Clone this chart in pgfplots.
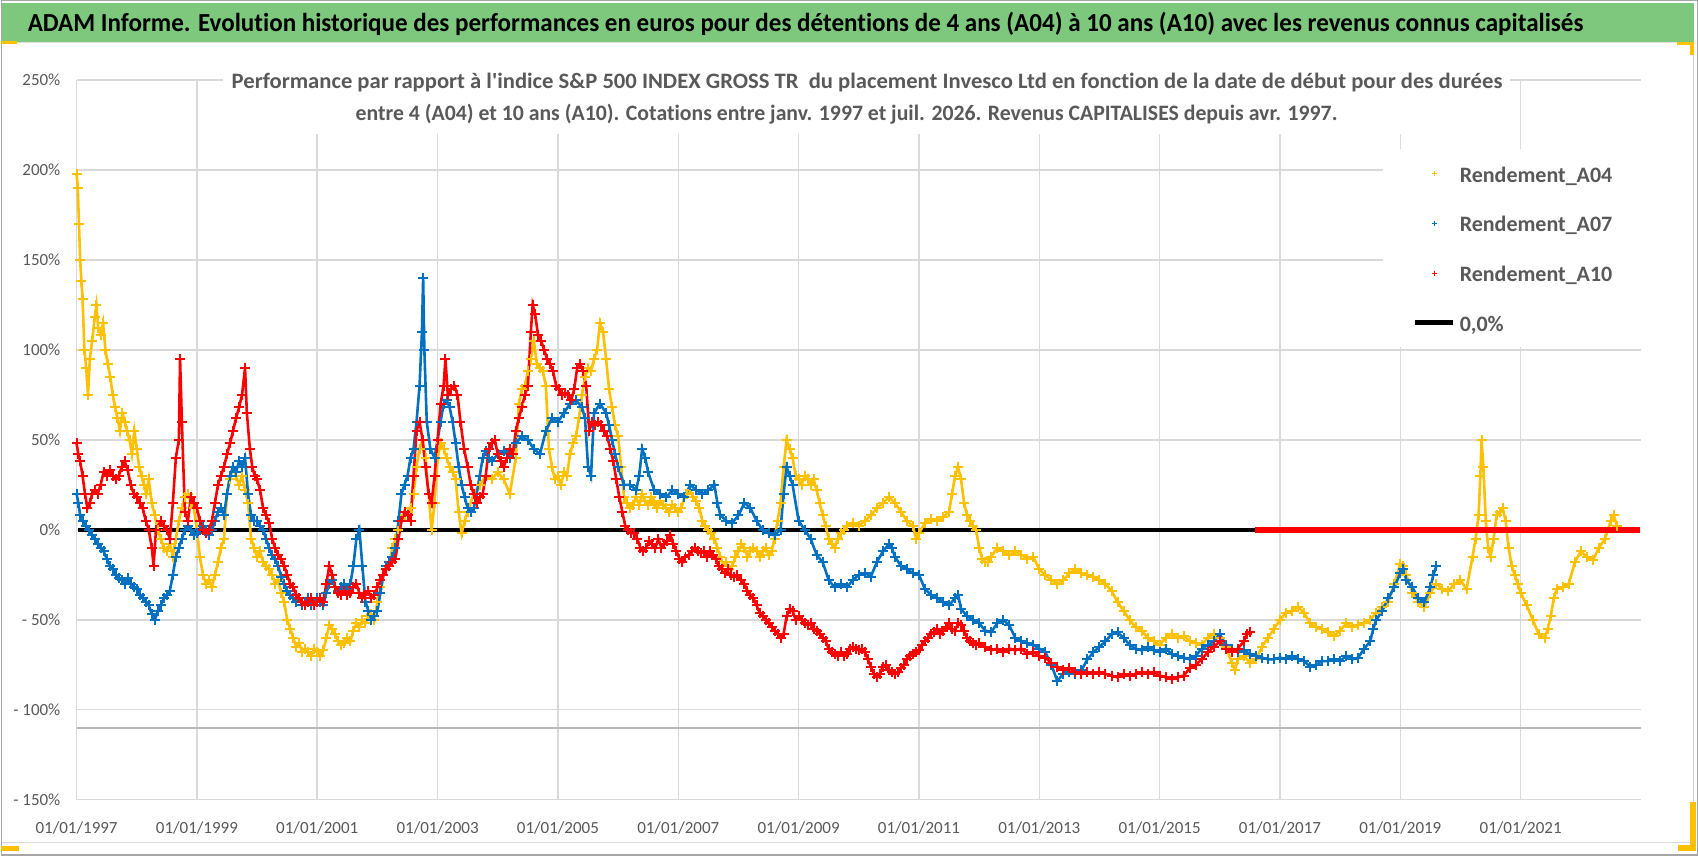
\documentclass[border=0pt]{standalone}
\usepackage{pgfplots}
\pgfplotsset{compat=1.18}
\usepackage{fontspec}
\setmainfont{Carlito}[Ligatures={TeXOff,CommonOff}]
\usepackage{graphicx}
\definecolor{cA04}{HTML}{FFC000}
\definecolor{cA07}{HTML}{0070C0}
\definecolor{cA10}{HTML}{FF0000}
\definecolor{txtgray}{HTML}{595959}
\definecolor{gridgray}{HTML}{D9D9D9}
\definecolor{titlegreen}{HTML}{7EC87E}
\pgfplotsset{serie/.style={line width=2.6pt, mark=+, mark size=5pt, mark options={line width=2pt}}}
\begin{document}
\begin{tikzpicture}[x=1pt,y=1pt]
\fill[white] (0,0) rectangle (1698,856);
\fill[titlegreen] (0,814) rectangle (1694,853);
\draw[gray!25, line width=1pt] (0,813) -- (1694,813);
\draw[gray!30, line width=1.2pt] (0,13) -- (1690,13);
\draw[gray!35, line width=1pt] (1693,13) -- (1693,813);
\draw[gray!70, line width=1.2pt] (0.6,0.6) rectangle (1697.4,855.4);
\fill[cA04] (0,812) rectangle (16,815);
\fill[cA04] (0,5) rectangle (18,10);
\fill[cA04] (1690,5) rectangle (1696,54);
\fill[cA04] (1678,5) rectangle (1696,11);
\fill[cA04] (1677,811) rectangle (1694,814);
\fill[cA04] (1690,801) rectangle (1694,814);
\begin{axis}[
  at={(76pt,56pt)}, anchor=south west,
  width=1565pt, height=720pt, scale only axis,
  xmin=1997, xmax=2023, ymin=-150, ymax=250,
  axis line style={draw=none}, tick style={draw=none},
  xtick={1997,1999,...,2021},
  xticklabels={01/01/1997,01/01/1999,01/01/2001,01/01/2003,01/01/2005,01/01/2007,01/01/2009,01/01/2011,01/01/2013,01/01/2015,01/01/2017,01/01/2019,01/01/2021},
  ytick={-150,-100,...,250},
  yticklabels={- 150\%,- 100\%,- 50\%,0\%,50\%,100\%,150\%,200\%,250\%},
  grid=major, major grid style={gridgray, line width=1.5pt},
  xticklabel style={font=\fontsize{17}{20}\selectfont, text=txtgray, anchor=north, inner sep=0pt, yshift=-22pt},
  yticklabel style={font=\fontsize{17}{20}\selectfont, text=txtgray, anchor=east, inner sep=0pt, xshift=-16pt},
  clip=false,
  legend cell align=left,
  legend style={at={(rel axis cs:0.835,0.904)}, anchor=north west, fill=white, draw=none,
    inner xsep=30pt, inner ysep=16pt,
    font=\bfseries\fontsize{22}{26}\selectfont, text=txtgray,
    row sep=32.7pt,
    /tikz/every odd column/.append style={column sep=4pt},
    nodes={inner sep=0pt, text height=17pt, text depth=0pt}},
]
\addplot[forget plot, gray!55, line width=1.8pt] coordinates {(1997,-110) (2023,-110)};
\addplot[forget plot, black, line width=4.5pt] coordinates {(1997.03,0) (2022.98,0)};

\addplot[forget plot, cA04, serie]
coordinates {
(1997.00,198) (1997.02,190) (1997.04,170) (1997.06,150) (1997.08,138) (1997.10,128) (1997.13,100) (1997.16,90) (1997.19,75) (1997.22,95) (1997.26,105) (1997.30,118) (1997.33,125) (1997.36,112) (1997.40,108) (1997.44,115) (1997.48,100) (1997.52,92) (1997.56,85) (1997.60,75) (1997.64,68) (1997.68,62) (1997.72,55) (1997.76,65) (1997.80,60) (1997.84,55) (1997.88,50) (1997.92,42) (1997.96,55) (1998.00,45) (1998.04,35) (1998.08,30) (1998.12,25) (1998.16,20) (1998.20,28) (1998.25,15) (1998.30,8) (1998.35,0) (1998.40,-5) (1998.45,-10) (1998.50,-12) (1998.55,-8) (1998.60,-15) (1998.65,-5) (1998.70,5) (1998.75,12) (1998.80,18) (1998.85,20) (1998.90,15) (1998.95,12) (1999.00,0) (1999.05,-15) (1999.10,-25) (1999.15,-30) (1999.20,-28) (1999.25,-32) (1999.30,-25) (1999.35,-18) (1999.40,-10) (1999.45,-5) (1999.50,20) (1999.55,28) (1999.60,35) (1999.65,30) (1999.70,25) (1999.75,30) (1999.80,22) (1999.85,15) (1999.90,-5) (1999.95,-10) (2000.00,-15) (2000.05,-12) (2000.10,-18) (2000.15,-20) (2000.20,-22) (2000.25,-25) (2000.30,-30) (2000.35,-28) (2000.40,-35) (2000.45,-40) (2000.50,-50) (2000.55,-55) (2000.60,-60) (2000.65,-65) (2000.70,-63) (2000.75,-68) (2000.80,-66) (2000.85,-68) (2000.90,-70) (2000.95,-66) (2001.00,-68) (2001.05,-70) (2001.10,-67) (2001.15,-60) (2001.20,-53) (2001.25,-55) (2001.30,-58) (2001.35,-62) (2001.40,-64) (2001.45,-63) (2001.50,-60) (2001.55,-62) (2001.60,-56) (2001.65,-52) (2001.70,-54) (2001.75,-50) (2001.80,-52) (2001.85,-48) (2001.90,-47) (2001.95,-50) (2002.00,-40) (2002.05,-32) (2002.10,-25) (2002.15,-22) (2002.20,-18) (2002.25,-10) (2002.30,-5) (2002.35,0) (2002.40,5) (2002.45,8) (2002.50,10) (2002.55,12) (2002.60,20) (2002.65,35) (2002.70,45) (2002.75,50) (2002.80,40) (2002.85,20) (2002.90,0) (2002.95,15) (2003.00,40) (2003.05,48) (2003.10,45) (2003.15,40) (2003.20,35) (2003.25,32) (2003.30,28) (2003.35,10) (2003.40,-2) (2003.45,5) (2003.50,10) (2003.60,20) (2003.70,25) (2003.80,30) (2003.90,28) (2004.00,32) (2004.10,28) (2004.20,20) (2004.30,40) (2004.35,70) (2004.40,78) (2004.45,80) (2004.50,88) (2004.55,95) (2004.60,105) (2004.65,92) (2004.70,90) (2004.75,88) (2004.80,80) (2004.85,45) (2004.90,35) (2004.95,28) (2005.00,30) (2005.05,25) (2005.10,32) (2005.15,30) (2005.20,42) (2005.25,48) (2005.30,52) (2005.35,62) (2005.40,75) (2005.45,85) (2005.50,90) (2005.55,88) (2005.60,95) (2005.65,100) (2005.70,115) (2005.75,110) (2005.80,95) (2005.85,78) (2005.90,68) (2005.95,58) (2006.00,52) (2006.05,35) (2006.10,18) (2006.15,15) (2006.20,12) (2006.25,14) (2006.30,18) (2006.35,14) (2006.40,20) (2006.45,16) (2006.50,14) (2006.55,18) (2006.60,15) (2006.65,12) (2006.70,16) (2006.75,14) (2006.80,12) (2006.85,10) (2006.90,14) (2006.95,12) (2007.00,10) (2007.05,12) (2007.10,18) (2007.15,20) (2007.20,22) (2007.25,18) (2007.30,16) (2007.35,12) (2007.40,5) (2007.45,2) (2007.50,0) (2007.55,-2) (2007.60,-5) (2007.65,-10) (2007.70,-15) (2007.75,-20) (2007.80,-18) (2007.85,-22) (2007.90,-20) (2007.95,-15) (2008.00,-12) (2008.05,-8) (2008.10,-10) (2008.15,-15) (2008.20,-12) (2008.25,-10) (2008.30,-12) (2008.35,-15) (2008.40,-12) (2008.45,-10) (2008.50,-14) (2008.55,-12) (2008.60,-5) (2008.65,5) (2008.70,15) (2008.75,35) (2008.80,50) (2008.85,45) (2008.90,40) (2008.95,30) (2009.00,28) (2009.05,25) (2009.10,30) (2009.15,28) (2009.20,25) (2009.25,28) (2009.30,22) (2009.35,15) (2009.40,8) (2009.45,2) (2009.50,-5) (2009.55,-8) (2009.60,-10) (2009.65,-5) (2009.70,-2) (2009.75,0) (2009.80,2) (2009.90,4) (2010.00,2) (2010.10,5) (2010.20,8) (2010.30,12) (2010.40,15) (2010.50,18) (2010.60,15) (2010.70,10) (2010.80,5) (2010.90,2) (2010.95,-5) (2011.00,-2) (2011.10,4) (2011.20,6) (2011.30,5) (2011.40,7) (2011.50,10) (2011.55,20) (2011.60,30) (2011.65,35) (2011.70,28) (2011.75,15) (2011.80,8) (2011.85,5) (2011.90,2) (2011.95,0) (2012.00,-10) (2012.05,-16) (2012.10,-18) (2012.15,-18) (2012.20,-15) (2012.30,-10) (2012.40,-12) (2012.50,-14) (2012.60,-12) (2012.70,-14) (2012.80,-16) (2012.90,-15) (2013.00,-22) (2013.10,-25) (2013.20,-28) (2013.30,-30) (2013.40,-28) (2013.50,-24) (2013.60,-22) (2013.70,-24) (2013.80,-25) (2013.90,-26) (2014.00,-28) (2014.10,-30) (2014.20,-34) (2014.30,-40) (2014.40,-45) (2014.50,-50) (2014.60,-54) (2014.70,-56) (2014.80,-60) (2014.90,-62) (2015.00,-64) (2015.10,-60) (2015.20,-58) (2015.30,-60) (2015.40,-59) (2015.50,-62) (2015.60,-63) (2015.70,-64) (2015.80,-60) (2015.90,-58) (2016.00,-60) (2016.10,-65) (2016.20,-74) (2016.25,-78) (2016.30,-72) (2016.40,-70) (2016.50,-74) (2016.60,-72) (2016.70,-65) (2016.80,-60) (2016.90,-55) (2017.00,-50) (2017.10,-46) (2017.20,-45) (2017.30,-43) (2017.40,-46) (2017.50,-52) (2017.60,-54) (2017.70,-55) (2017.80,-57) (2017.90,-59) (2018.00,-56) (2018.10,-52) (2018.20,-54) (2018.30,-53) (2018.40,-52) (2018.50,-50) (2018.60,-46) (2018.70,-43) (2018.80,-40) (2018.90,-30) (2019.00,-19) (2019.05,-20) (2019.10,-25) (2019.20,-35) (2019.30,-40) (2019.40,-43) (2019.50,-35) (2019.60,-30) (2019.70,-33) (2019.80,-34) (2019.90,-30) (2020.00,-28) (2020.10,-33) (2020.20,-15) (2020.25,-5) (2020.30,8) (2020.33,30) (2020.35,50) (2020.38,35) (2020.42,5) (2020.46,-10) (2020.50,-15) (2020.55,-5) (2020.60,8) (2020.65,10) (2020.70,12) (2020.75,5) (2020.80,-10) (2020.85,-20) (2020.90,-25) (2020.95,-30) (2021.00,-35) (2021.10,-42) (2021.20,-50) (2021.30,-58) (2021.40,-60) (2021.45,-55) (2021.50,-48) (2021.55,-38) (2021.60,-33) (2021.70,-32) (2021.80,-30) (2021.90,-18) (2022.00,-12) (2022.10,-15) (2022.20,-17) (2022.30,-10) (2022.40,-5) (2022.50,5) (2022.55,8) (2022.60,2)
};

\addplot[forget plot, cA07, serie]
coordinates {
(1997.00,20) (1997.03,15) (1997.06,8) (1997.10,5) (1997.15,2) (1997.20,0) (1997.25,-3) (1997.30,-5) (1997.35,-8) (1997.40,-10) (1997.45,-12) (1997.50,-16) (1997.55,-20) (1997.60,-22) (1997.65,-25) (1997.70,-27) (1997.75,-28) (1997.80,-30) (1997.85,-27) (1997.90,-30) (1997.95,-32) (1998.00,-33) (1998.05,-36) (1998.10,-38) (1998.15,-40) (1998.20,-42) (1998.25,-47) (1998.30,-50) (1998.35,-45) (1998.40,-42) (1998.45,-38) (1998.50,-36) (1998.55,-34) (1998.60,-25) (1998.65,-15) (1998.70,-10) (1998.75,-5) (1998.80,0) (1998.85,2) (1998.90,0) (1998.95,-3) (1999.00,-2) (1999.05,0) (1999.10,2) (1999.15,0) (1999.20,-3) (1999.25,0) (1999.30,5) (1999.35,10) (1999.40,12) (1999.45,8) (1999.50,20) (1999.55,30) (1999.60,35) (1999.65,32) (1999.70,38) (1999.75,35) (1999.80,40) (1999.85,20) (1999.90,8) (1999.95,5) (2000.00,5) (2000.05,2) (2000.10,0) (2000.15,-5) (2000.20,-10) (2000.25,-14) (2000.30,-16) (2000.35,-20) (2000.40,-26) (2000.45,-30) (2000.50,-34) (2000.55,-36) (2000.60,-38) (2000.65,-40) (2000.70,-38) (2000.75,-42) (2000.80,-40) (2000.85,-38) (2000.90,-42) (2000.95,-40) (2001.00,-38) (2001.05,-40) (2001.10,-42) (2001.15,-35) (2001.20,-30) (2001.25,-28) (2001.30,-32) (2001.35,-34) (2001.40,-32) (2001.45,-30) (2001.50,-33) (2001.55,-30) (2001.60,-20) (2001.65,-5) (2001.70,0) (2001.75,-20) (2001.80,-40) (2001.85,-45) (2001.90,-50) (2001.95,-48) (2002.00,-45) (2002.05,-35) (2002.10,-25) (2002.15,-20) (2002.20,-18) (2002.25,-15) (2002.30,-10) (2002.35,5) (2002.40,20) (2002.45,25) (2002.50,30) (2002.55,40) (2002.60,45) (2002.65,60) (2002.70,80) (2002.74,110) (2002.76,140) (2002.78,100) (2002.82,60) (2002.88,45) (2002.95,40) (2003.00,50) (2003.05,60) (2003.10,70) (2003.15,72) (2003.20,68) (2003.25,60) (2003.30,48) (2003.35,35) (2003.40,25) (2003.45,18) (2003.50,12) (2003.55,10) (2003.60,12) (2003.65,20) (2003.70,30) (2003.75,40) (2003.80,44) (2003.85,40) (2003.90,38) (2004.00,42) (2004.10,44) (2004.20,40) (2004.30,48) (2004.40,52) (2004.50,50) (2004.60,45) (2004.70,42) (2004.80,55) (2004.90,62) (2005.00,60) (2005.10,65) (2005.20,70) (2005.30,72) (2005.40,68) (2005.45,62) (2005.50,35) (2005.55,30) (2005.60,65) (2005.70,70) (2005.80,65) (2005.85,58) (2005.90,50) (2005.95,42) (2006.00,35) (2006.10,25) (2006.20,25) (2006.30,22) (2006.35,30) (2006.40,45) (2006.45,40) (2006.50,32) (2006.60,22) (2006.70,20) (2006.80,18) (2006.90,22) (2007.00,20) (2007.10,18) (2007.20,25) (2007.30,22) (2007.40,20) (2007.50,22) (2007.60,25) (2007.65,15) (2007.70,8) (2007.80,5) (2007.90,4) (2008.00,8) (2008.10,15) (2008.20,12) (2008.30,5) (2008.40,0) (2008.50,-2) (2008.60,-3) (2008.70,0) (2008.75,20) (2008.80,35) (2008.85,30) (2008.90,25) (2009.00,5) (2009.10,0) (2009.20,-5) (2009.30,-14) (2009.40,-18) (2009.50,-28) (2009.60,-32) (2009.70,-30) (2009.80,-32) (2009.90,-28) (2010.00,-25) (2010.10,-24) (2010.20,-26) (2010.30,-18) (2010.40,-12) (2010.50,-8) (2010.55,-10) (2010.60,-15) (2010.70,-20) (2010.80,-22) (2010.90,-24) (2011.00,-25) (2011.10,-33) (2011.20,-36) (2011.30,-38) (2011.40,-40) (2011.50,-42) (2011.60,-38) (2011.65,-36) (2011.70,-44) (2011.80,-48) (2011.90,-50) (2012.00,-52) (2012.10,-56) (2012.20,-57) (2012.30,-52) (2012.40,-50) (2012.50,-53) (2012.60,-60) (2012.70,-62) (2012.80,-63) (2012.90,-64) (2013.00,-66) (2013.10,-68) (2013.20,-75) (2013.30,-84) (2013.40,-80) (2013.50,-79) (2013.60,-80) (2013.70,-78) (2013.80,-72) (2013.90,-68) (2014.00,-65) (2014.10,-62) (2014.20,-58) (2014.30,-57) (2014.40,-60) (2014.50,-64) (2014.60,-66) (2014.70,-67) (2014.80,-65) (2014.90,-67) (2015.00,-68) (2015.10,-66) (2015.20,-69) (2015.30,-70) (2015.40,-71) (2015.50,-72) (2015.60,-70) (2015.70,-66) (2015.80,-64) (2015.90,-62) (2016.00,-58) (2016.10,-64) (2016.20,-66) (2016.30,-68) (2016.40,-67) (2016.50,-69) (2016.60,-70) (2016.70,-71) (2016.80,-72) (2016.90,-72) (2017.00,-71) (2017.10,-72) (2017.20,-70) (2017.30,-72) (2017.40,-73) (2017.50,-76) (2017.60,-75) (2017.70,-73) (2017.80,-73) (2017.90,-72) (2018.00,-73) (2018.10,-70) (2018.20,-72) (2018.30,-71) (2018.40,-66) (2018.50,-62) (2018.55,-55) (2018.60,-50) (2018.70,-45) (2018.80,-38) (2018.90,-32) (2019.00,-24) (2019.05,-22) (2019.10,-28) (2019.20,-32) (2019.30,-38) (2019.40,-40) (2019.50,-32) (2019.55,-25) (2019.60,-20)
};

\addplot[forget plot, cA10, serie]
coordinates {
(1997.00,48) (1997.03,42) (1997.06,38) (1997.10,30) (1997.14,20) (1997.18,12) (1997.22,15) (1997.26,20) (1997.30,22) (1997.35,20) (1997.40,25) (1997.45,32) (1997.50,30) (1997.55,33) (1997.60,30) (1997.65,28) (1997.70,30) (1997.75,35) (1997.80,38) (1997.85,33) (1997.90,25) (1997.95,20) (1998.00,18) (1998.05,15) (1998.10,12) (1998.15,5) (1998.20,0) (1998.25,-10) (1998.28,-20) (1998.32,0) (1998.40,5) (1998.45,2) (1998.50,0) (1998.55,-5) (1998.60,15) (1998.65,40) (1998.70,50) (1998.72,95) (1998.75,60) (1998.80,10) (1998.85,5) (1998.90,18) (1998.95,15) (1999.00,12) (1999.05,5) (1999.10,0) (1999.15,-2) (1999.20,0) (1999.25,5) (1999.30,15) (1999.35,25) (1999.40,30) (1999.45,35) (1999.50,42) (1999.55,48) (1999.60,55) (1999.65,62) (1999.70,68) (1999.75,75) (1999.80,90) (1999.83,65) (1999.88,45) (1999.92,35) (1999.96,30) (2000.00,28) (2000.05,22) (2000.10,12) (2000.15,8) (2000.20,4) (2000.25,-5) (2000.30,-10) (2000.35,-14) (2000.40,-16) (2000.45,-20) (2000.50,-25) (2000.55,-30) (2000.60,-32) (2000.65,-36) (2000.70,-38) (2000.75,-40) (2000.80,-42) (2000.85,-40) (2000.90,-38) (2000.95,-42) (2001.00,-40) (2001.05,-38) (2001.10,-40) (2001.15,-30) (2001.20,-20) (2001.25,-25) (2001.30,-32) (2001.35,-35) (2001.40,-36) (2001.45,-34) (2001.50,-36) (2001.55,-35) (2001.60,-32) (2001.65,-30) (2001.70,-35) (2001.75,-38) (2001.80,-36) (2001.85,-34) (2001.90,-38) (2001.95,-36) (2002.00,-32) (2002.05,-28) (2002.10,-25) (2002.15,-22) (2002.20,-20) (2002.25,-18) (2002.30,-16) (2002.35,-5) (2002.40,5) (2002.45,10) (2002.50,8) (2002.55,5) (2002.60,30) (2002.65,55) (2002.70,60) (2002.75,50) (2002.80,35) (2002.85,20) (2002.90,15) (2002.95,30) (2003.00,50) (2003.05,70) (2003.10,80) (2003.13,95) (2003.17,75) (2003.22,78) (2003.28,80) (2003.33,75) (2003.38,60) (2003.44,45) (2003.50,35) (2003.55,25) (2003.60,20) (2003.65,15) (2003.70,18) (2003.75,20) (2003.80,30) (2003.85,45) (2003.90,48) (2003.95,50) (2004.00,42) (2004.05,38) (2004.10,35) (2004.15,40) (2004.20,45) (2004.25,42) (2004.30,55) (2004.35,62) (2004.40,68) (2004.45,75) (2004.50,80) (2004.55,110) (2004.58,125) (2004.62,120) (2004.67,108) (2004.72,105) (2004.77,100) (2004.82,95) (2004.87,92) (2004.92,88) (2004.97,80) (2005.02,78) (2005.07,75) (2005.12,76) (2005.17,75) (2005.22,72) (2005.27,78) (2005.32,90) (2005.37,92) (2005.42,88) (2005.47,80) (2005.52,55) (2005.57,60) (2005.62,58) (2005.67,60) (2005.72,58) (2005.77,55) (2005.82,52) (2005.87,45) (2005.92,38) (2005.97,28) (2006.02,18) (2006.07,10) (2006.12,2) (2006.17,0) (2006.22,-2) (2006.27,-2) (2006.32,-5) (2006.37,-10) (2006.42,-12) (2006.47,-10) (2006.52,-6) (2006.57,-8) (2006.62,-10) (2006.67,-5) (2006.72,-10) (2006.77,-8) (2006.82,-6) (2006.87,-3) (2006.92,-8) (2006.97,-12) (2007.02,-16) (2007.07,-18) (2007.12,-15) (2007.17,-14) (2007.22,-12) (2007.27,-10) (2007.32,-12) (2007.37,-13) (2007.42,-12) (2007.47,-15) (2007.52,-12) (2007.57,-14) (2007.62,-16) (2007.67,-20) (2007.72,-22) (2007.77,-24) (2007.82,-22) (2007.87,-25) (2007.92,-26) (2007.97,-25) (2008.05,-28) (2008.10,-30) (2008.15,-34) (2008.20,-36) (2008.25,-38) (2008.30,-42) (2008.35,-46) (2008.40,-48) (2008.45,-50) (2008.50,-52) (2008.55,-54) (2008.60,-56) (2008.65,-58) (2008.70,-60) (2008.75,-58) (2008.80,-48) (2008.85,-44) (2008.90,-45) (2008.95,-50) (2009.00,-48) (2009.05,-50) (2009.10,-52) (2009.15,-53) (2009.20,-52) (2009.25,-55) (2009.30,-56) (2009.35,-58) (2009.40,-60) (2009.45,-62) (2009.50,-66) (2009.55,-68) (2009.60,-69) (2009.65,-70) (2009.70,-68) (2009.75,-70) (2009.80,-69) (2009.85,-66) (2009.90,-65) (2009.95,-66) (2010.00,-67) (2010.05,-66) (2010.10,-68) (2010.15,-72) (2010.20,-76) (2010.25,-80) (2010.30,-82) (2010.35,-80) (2010.40,-76) (2010.45,-75) (2010.50,-78) (2010.55,-79) (2010.60,-80) (2010.65,-79) (2010.70,-77) (2010.75,-75) (2010.80,-72) (2010.85,-70) (2010.90,-69) (2010.95,-68) (2011.00,-67) (2011.05,-64) (2011.10,-62) (2011.15,-60) (2011.20,-58) (2011.25,-57) (2011.30,-55) (2011.35,-58) (2011.40,-56) (2011.45,-54) (2011.50,-52) (2011.55,-55) (2011.60,-56) (2011.65,-52) (2011.70,-53) (2011.75,-56) (2011.80,-60) (2011.85,-62) (2011.90,-63) (2011.95,-64) (2012.00,-63) (2012.10,-65) (2012.20,-67) (2012.30,-66) (2012.40,-68) (2012.50,-66) (2012.60,-67) (2012.70,-66) (2012.80,-69) (2012.90,-68) (2013.00,-70) (2013.10,-71) (2013.20,-74) (2013.30,-76) (2013.40,-78) (2013.50,-77) (2013.60,-79) (2013.70,-80) (2013.80,-79) (2013.90,-80) (2014.00,-79) (2014.10,-80) (2014.20,-81) (2014.30,-82) (2014.40,-80) (2014.50,-81) (2014.60,-80) (2014.70,-79) (2014.80,-80) (2014.90,-79) (2015.00,-81) (2015.10,-82) (2015.20,-83) (2015.30,-82) (2015.40,-81) (2015.50,-77) (2015.60,-75) (2015.70,-72) (2015.80,-68) (2015.90,-65) (2016.00,-62) (2016.10,-66) (2016.20,-68) (2016.30,-66) (2016.40,-62) (2016.45,-58) (2016.50,-57)
};
\addplot[forget plot, cA10, line width=6.5pt] coordinates {(2016.58,0) (2022.98,0)};

\addlegendimage{legend image code/.code={\path[mark=+, mark size=2.6pt, mark options={draw=cA04, line width=0.9pt}] plot coordinates {(19pt,0pt)}; \path (0pt,0pt) (38pt,0pt);}}
\addlegendentry{Rendement\_A04}
\addlegendimage{legend image code/.code={\path[mark=+, mark size=2.6pt, mark options={draw=cA07, line width=1pt}] plot coordinates {(19pt,0pt)}; \path (0pt,0pt) (38pt,0pt);}}
\addlegendentry{Rendement\_A07}
\addlegendimage{legend image code/.code={\path[mark=+, mark size=2.6pt, mark options={draw=cA10, line width=1pt}] plot coordinates {(19pt,0pt)}; \path (0pt,0pt) (38pt,0pt);}}
\addlegendentry{Rendement\_A10}
\addlegendimage{legend image code/.code={\draw[black, line width=4.7pt] (0pt,0pt) -- (38pt,0pt);}}
\addlegendentry{0,0\%}
\end{axis}
\fill[white] (222,722) rectangle (1510,796);
\node[anchor=base west, inner sep=0pt] at (27,824) {\resizebox{1556pt}{\height}{\bfseries\fontsize{26}{30}\selectfont ADAM Informe. Evolution historique des performances en euros pour des détentions de 4 ans (A04) à 10 ans (A10) avec les revenus connus capitalisés}};
\node[anchor=base west, inner sep=0pt, text=txtgray] at (231,767) {\resizebox{1271pt}{\height}{\bfseries\fontsize{22}{26}\selectfont Performance par rapport à l'indice S\&P 500 INDEX GROSS TR\ \ du placement Invesco Ltd en fonction de la date de début pour des durées}};
\node[anchor=base west, inner sep=0pt, text=txtgray] at (355,735) {\resizebox{982pt}{\height}{\bfseries\fontsize{22}{26}\selectfont entre 4 (A04) et 10 ans (A10). Cotations entre janv. 1997 et juil. 2026. Revenus CAPITALISES depuis avr. 1997.}};
\end{tikzpicture}
\end{document}
